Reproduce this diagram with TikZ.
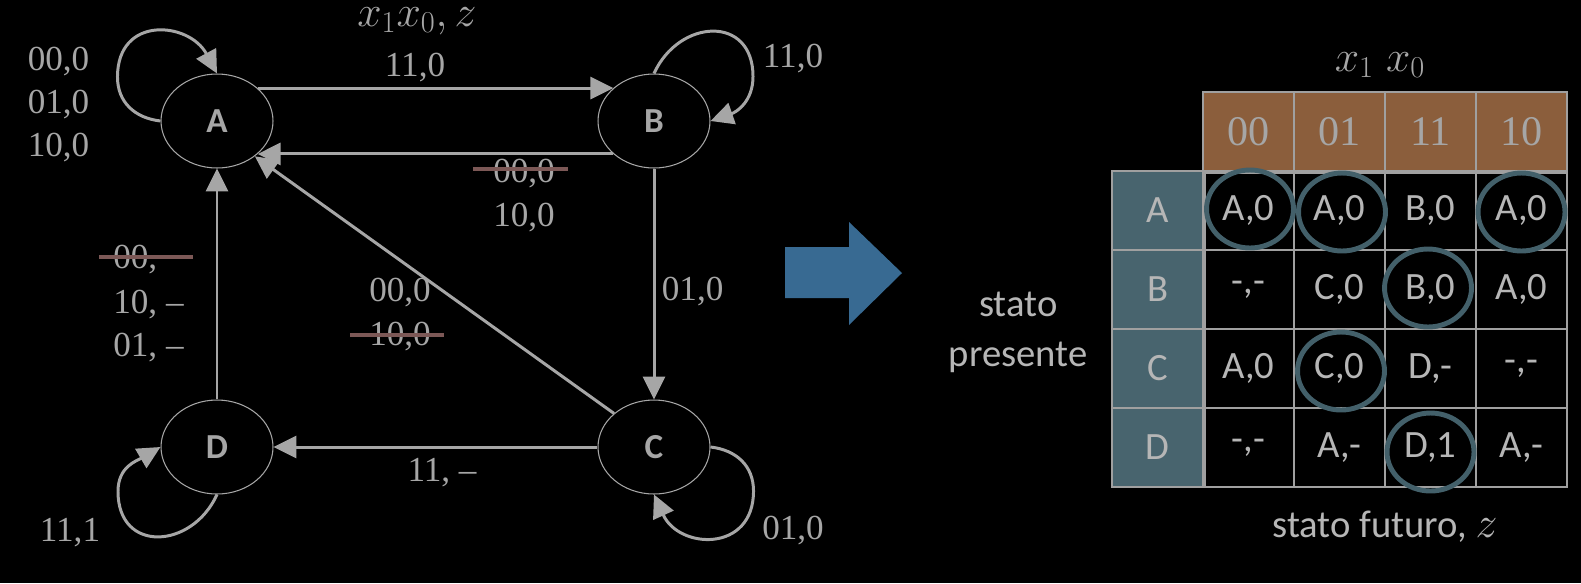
\documentclass[tikz,border=0pt]{standalone}
\usepackage{fontspec}
\setmainfont{Liberation Serif}
\setsansfont{Carlito}
\usetikzlibrary{arrows.meta,shapes.geometric}

\definecolor{txtgray}{RGB}{166,166,166}
\definecolor{lightgray}{RGB}{182,182,182}
\definecolor{gridgray}{RGB}{160,160,160}
\definecolor{strikered}{RGB}{124,88,86}
\definecolor{arrowblue}{RGB}{56,106,146}
\definecolor{hdrbrown}{RGB}{139,94,60}
\definecolor{rowteal}{RGB}{72,100,110}
\definecolor{ringteal}{RGB}{67,96,106}

\begin{document}
\begin{tikzpicture}[x=0.02cm,y=-0.02cm,>={Triangle[length=13pt,width=12.5pt]},
  edge/.style={draw=txtgray,line width=1.7pt},
  state/.style={ellipse,draw=txtgray,line width=0.6pt,fill=black,text=txtgray,
    minimum width=2.24cm,minimum height=1.88cm,inner sep=0pt,
    font=\sffamily\bfseries\fontsize{20}{24}\selectfont},
  lbl/.style={text=txtgray,inner sep=0pt,text depth=0pt,
    font=\fontsize{20}{24.5}\selectfont},
  mathlbl/.style={lbl,font=\fontsize{25}{30}\selectfont},
  strike/.style={draw=strikered,line width=2.8pt},
  hdr/.style={rectangle,draw=gridgray,line width=0.9pt,fill=hdrbrown,text=txtgray,
    minimum width=1.82cm,minimum height=1.58cm,font=\fontsize{24}{28}\selectfont},
  rowhd/.style={hdr,fill=rowteal,text=lightgray,font=\sffamily\fontsize{22}{26}\selectfont},
  cell/.style={rowhd,fill=black},
  side/.style={text=lightgray,inner sep=0pt,align=center,
    font=\sffamily\fontsize{22}{28.5}\selectfont},
  ring/.style={draw=ringteal,line width=2.8pt}]
\fill[black] (0,0) rectangle (1581,583);
\useasboundingbox (0,0) rectangle (1581,583);
%
\draw (217,121) node[state] (A) {A};
\draw (A) ++ (437,0) node[state] (B) {B};
\draw (A) ++ (0,326) node[state] (D) {D};
\draw (D) ++ (437,0) node[state] (C) {C};
%
\path[edge,->] (A.39) -- (B.141);
\path[edge,->] (B.-141) -- (A.-39);
\path[edge,->] (C.140) -- (A.-43);
\path[edge,->] (B) -- (C);
\path[edge,->] (C) -- (D);
\path[edge,->] (D) -- (A);
% self loops
\path[edge,->] (A.west) .. controls +(-26,-3) and +(0,25) .. ++(-43,-44)
  .. controls +(0,-62) and +(-28,-52) .. (A.north);
\path[edge,->] (B.north) .. controls +(25,-55) and +(0,-62) .. ++(99,3)
  .. controls +(0,25) and +(26,-9) .. (B.east);
\path[edge,->] (C.east) .. controls +(26,3) and +(0,-25) .. ++(43,44)
  .. controls +(0,62) and +(25,55) .. (C.south);
\path[edge,->] (D.south) .. controls +(-25,55) and +(0,62) .. ++(-99,-3)
  .. controls +(0,-25) and +(-24,14) .. (D.west);
%
\draw (417,17) node[mathlbl] (inLbl) {$x_1x_0,z$};
\draw (A) ++ (-158.5,-19) node[lbl,align=center] (selfA) {00,0\\01,0\\10,0};
\draw (415,65) node[lbl] (abLbl) {11,0};
\draw (793,56) node[lbl] (selfB) {11,0};
\draw (524,171) node[lbl] (baOld) {00,0};
\draw (baOld) ++ (0,44) node[lbl] (baLbl) {10,0};
\draw[strike] (baOld.west) ++ (-20,-2) -- ++ (95,0);
\draw (B) ++ (7.5,168) node[lbl,anchor=west] (bcLbl) {01,0};
\draw (400,290) node[lbl] (caLbl) {00,0};
\draw (caLbl) ++ (0,44) node[lbl] (caOld) {10,0};
\draw[strike] (caOld.west) ++ (-19,1) -- ++ (94,0);
\draw (442,470) node[lbl] (cdLbl) {11, --};
\draw (793,528) node[lbl] (selfC) {01,0};
\draw (70,530) node[lbl] (selfD) {11,1};
\draw (113,257) node[lbl,anchor=west] (daOld) {00,};
\draw (daOld.west) ++ (0,66.5) node[lbl,anchor=west,align=left] (daLbl) {10, --\\01, --};
\draw[strike] (daOld.west) ++ (-14,0) -- ++ (94,0);
%
\fill[arrowblue] (785,247) -- (849,247) -- (849,222) -- (902,273)
  -- (849,325) -- (849,298) -- (785,298) -- cycle;
%
\draw (1248.5,131.5) node[hdr] (h00) {00};
\draw (h00) ++ (91,0) node[hdr] (h01) {01};
\draw (h01) ++ (91,0) node[hdr] (h11) {11};
\draw (h11) ++ (91,0) node[hdr] (h10) {10};
\draw (h00) ++ (-91,79) node[rowhd] (rA) {A};
\draw (rA) ++ (0,79) node[rowhd] (rB) {B};
\draw (rB) ++ (0,79) node[rowhd] (rC) {C};
\draw (rC) ++ (0,79) node[rowhd] (rD) {D};
%
\draw (rA) ++ (91,0) node[cell] (A00) {A,0};
\draw (A00) ++ (91,0) node[cell] (A01) {A,0};
\draw (A01) ++ (91,0) node[cell] (A11) {B,0};
\draw (A11) ++ (91,0) node[cell] (A10) {A,0};
\draw (rB) ++ (91,0) node[cell] (B00) {-,-};
\draw (B00) ++ (91,0) node[cell] (B01) {C,0};
\draw (B01) ++ (91,0) node[cell] (B11) {B,0};
\draw (B11) ++ (91,0) node[cell] (B10) {A,0};
\draw (rC) ++ (91,0) node[cell] (C00) {A,0};
\draw (C00) ++ (91,0) node[cell] (C01) {C,0};
\draw (C01) ++ (91,0) node[cell] (C11) {D,-};
\draw (C11) ++ (91,0) node[cell] (C10) {-,-};
\draw (rD) ++ (91,0) node[cell] (D00) {-,-};
\draw (D00) ++ (91,0) node[cell] (D01) {A,-};
\draw (D01) ++ (91,0) node[cell] (D11) {D,1};
\draw (D11) ++ (91,0) node[cell] (D10) {A,-};
%
\draw[gridgray,line width=2.3pt] (rA.north east) -- (rD.south east);
\draw[gridgray,line width=2.3pt] (h00.south west) -- (h10.south east);
%
\draw[ring] (A00) ++ (1.5,-1.5) ellipse [x radius=0.87cm,y radius=0.78cm];
\draw[ring] (A01) ++ (2.5,1.5) ellipse [x radius=0.87cm,y radius=0.78cm];
\draw[ring] (A10) ++ (0,1.5) ellipse [x radius=0.87cm,y radius=0.78cm];
\draw[ring] (B11) ++ (-2.5,-1.5) ellipse [x radius=0.87cm,y radius=0.78cm];
\draw[ring] (C01) ++ (1.5,2.5) ellipse [x radius=0.87cm,y radius=0.78cm];
\draw[ring] (D11) ++ (0,4.5) ellipse [x radius=0.87cm,y radius=0.78cm];
%
\draw (1380,62) node[mathlbl] (colLbl) {$x_1\;x_0$};
\draw (rB.south west) ++ (-93,3) node[side] (rowLbl) {stato\\presente};
\draw (1385,527) node[side] (cellLbl) {stato futuro, {\fontsize{25}{30}\selectfont$z$}};
\end{tikzpicture}
\end{document}
